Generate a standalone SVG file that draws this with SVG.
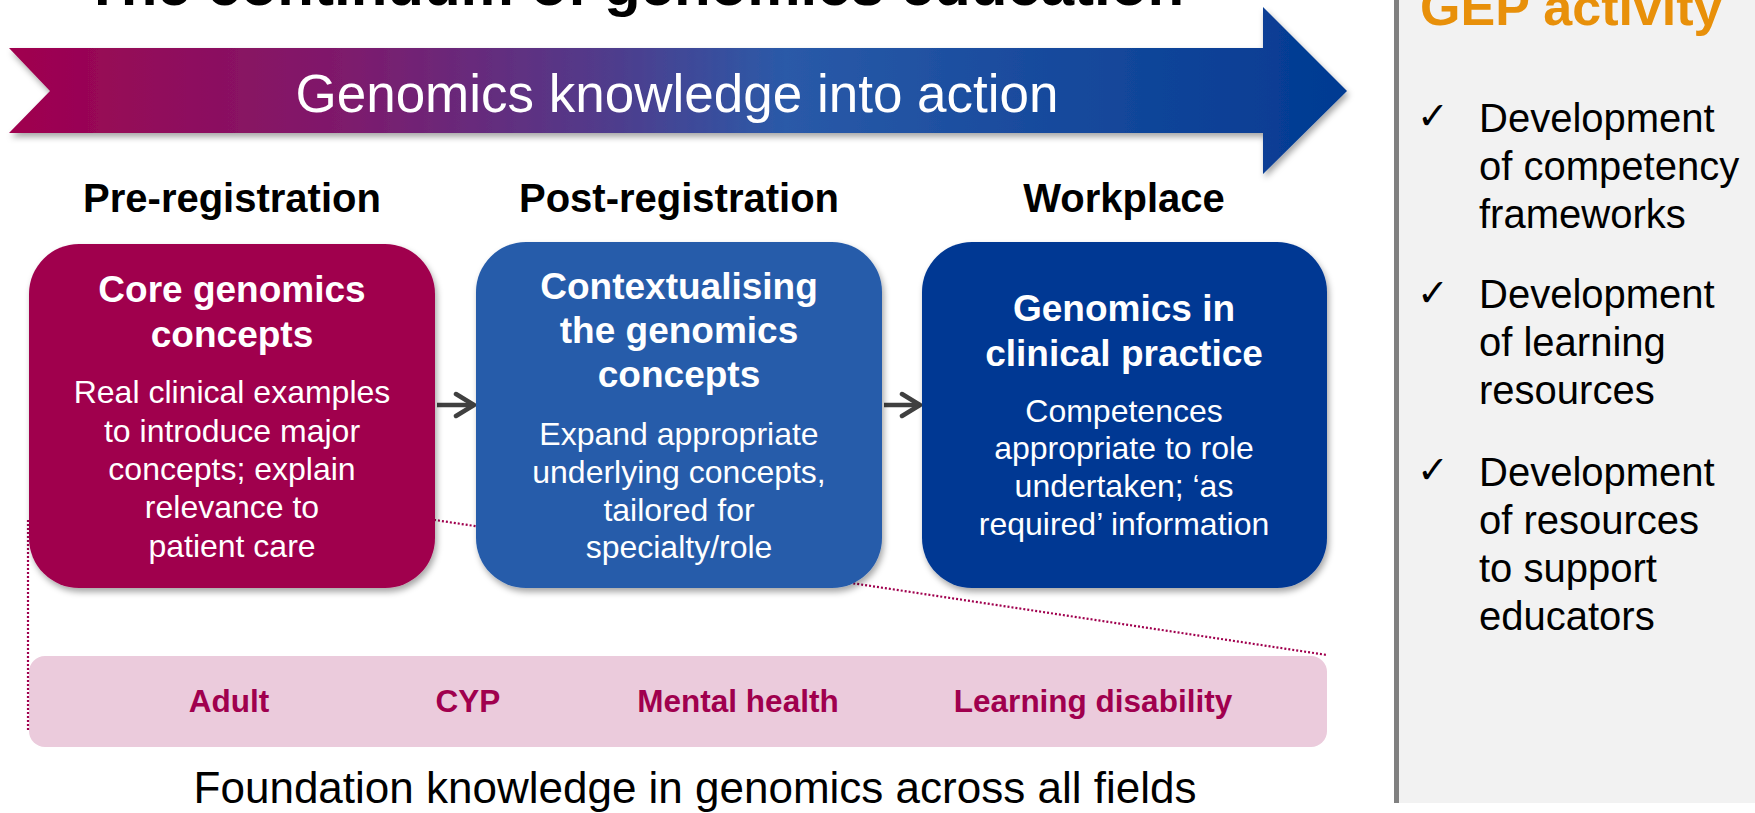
<svg xmlns="http://www.w3.org/2000/svg" width="1755" height="813" viewBox="0 0 1755 813">
<defs>
<linearGradient id="bannerGrad" x1="0" y1="0" x2="1" y2="0">
<stop offset="0" stop-color="#a0004e"/>
<stop offset="0.25" stop-color="#7e1a6c"/>
<stop offset="0.45" stop-color="#4f3c8c"/>
<stop offset="0.58" stop-color="#2a5aa8"/>
<stop offset="0.75" stop-color="#1a4c9e"/>
<stop offset="1" stop-color="#023a92"/>
</linearGradient>
<filter id="shadow" x="-5%" y="-5%" width="115%" height="120%">
<feDropShadow dx="2" dy="4" stdDeviation="3" flood-color="#000" flood-opacity="0.35"/>
</filter>
<marker id="chev" viewBox="0 0 24 28" refX="21" refY="14" markerWidth="24" markerHeight="28" markerUnits="userSpaceOnUse" orient="auto">
<path d="M3,3 L21,14 L3,25" fill="none" stroke="#404040" stroke-width="4.5" stroke-linecap="round" stroke-linejoin="round"/>
</marker>
</defs>
<style>
text{font-family:"Liberation Sans",Arial,sans-serif}
.hd{font-size:40px;font-weight:bold;fill:#000;text-anchor:middle}
.bt{font-size:37px;font-weight:bold;fill:#fff;text-anchor:middle}
.bb{font-size:32px;fill:#fff;text-anchor:middle}
.pk{font-size:31.5px;font-weight:bold;fill:#a0004e;text-anchor:middle}
.gp{font-size:40px;fill:#000}
.ck{font-size:38px;fill:#000;font-family:"DejaVu Sans",sans-serif}
.dot{fill:none;stroke:#a0004e;stroke-width:2.2;stroke-dasharray:2 2}
.arr{stroke:#404040;stroke-width:4.5;fill:none}
</style>
<rect width="1755" height="813" fill="#fff"/>

<g id="title">
<text x="84" y="5" font-size="60" font-weight="bold" fill="#000">The continuum of genomics education</text>
</g>

<g id="banner">
<polygon points="9,48 1263,48 1263,7 1347,91 1263,174 1263,133 9,133 50,91" fill="url(#bannerGrad)" filter="url(#shadow)"/>
<text x="677" y="112" font-size="53" fill="#fff" text-anchor="middle">Genomics knowledge into action</text>
</g>

<g id="gep-panel">
<rect x="1399" y="0" width="356" height="803" fill="#f2f2f2"/>
<rect x="1394" y="0" width="5" height="803" fill="#808080"/>
<text x="1420" y="25" font-size="52" font-weight="bold" fill="#e8900a">GEP activity</text>
<text class="ck" x="1417" y="129">✓</text>
<text class="gp" x="1479" y="132">Development</text>
<text class="gp" x="1479" y="180">of competency</text>
<text class="gp" x="1479" y="228">frameworks</text>
<text class="ck" x="1417" y="306">✓</text>
<text class="gp" x="1479" y="308">Development</text>
<text class="gp" x="1479" y="356">of learning</text>
<text class="gp" x="1479" y="404">resources</text>
<text class="ck" x="1417" y="483">✓</text>
<text class="gp" x="1479" y="486">Development</text>
<text class="gp" x="1479" y="534">of resources</text>
<text class="gp" x="1479" y="582">to support</text>
<text class="gp" x="1479" y="630">educators</text>
</g>

<g id="headings">
<text class="hd" x="232" y="212">Pre-registration</text>
<text class="hd" x="679" y="212">Post-registration</text>
<text class="hd" x="1124" y="212">Workplace</text>
</g>

<g id="fields-bar">
<rect x="29" y="656" width="1298" height="91" rx="16" fill="#ebcbdc"/>
<text class="pk" x="229" y="712">Adult</text>
<text class="pk" x="468" y="712">CYP</text>
<text class="pk" x="738" y="712">Mental health</text>
<text class="pk" x="1093" y="712">Learning disability</text>
</g>

<g id="connectors">
<polyline class="dot" points="28,730 28,520 435,520 1327,655"/>
<line class="arr" x1="437" y1="405" x2="474" y2="405" marker-end="url(#chev)"/>
<line class="arr" x1="884" y1="405" x2="920" y2="405" marker-end="url(#chev)"/>
</g>

<g id="box-core">
<rect x="29" y="244" width="406" height="344" rx="50" fill="#a0004e" filter="url(#shadow)"/>
<text class="bt" x="232" y="302">Core genomics</text>
<text class="bt" x="232" y="347">concepts</text>
<text class="bb" x="232" y="403">Real clinical examples</text>
<text class="bb" x="232" y="442">to introduce major</text>
<text class="bb" x="232" y="480">concepts; explain</text>
<text class="bb" x="232" y="518">relevance to</text>
<text class="bb" x="232" y="557">patient care</text>
</g>

<g id="box-context">
<rect x="476" y="242" width="406" height="346" rx="50" fill="#265caa" filter="url(#shadow)"/>
<text class="bt" x="679" y="299">Contextualising</text>
<text class="bt" x="679" y="343">the genomics</text>
<text class="bt" x="679" y="387">concepts</text>
<text class="bb" x="679" y="445">Expand appropriate</text>
<text class="bb" x="679" y="483">underlying concepts,</text>
<text class="bb" x="679" y="521">tailored for</text>
<text class="bb" x="679" y="558">specialty/role</text>
</g>

<g id="box-clinical">
<rect x="922" y="242" width="405" height="346" rx="50" fill="#003893" filter="url(#shadow)"/>
<text class="bt" x="1124" y="321">Genomics in</text>
<text class="bt" x="1124" y="366">clinical practice</text>
<text class="bb" x="1124" y="422">Competences</text>
<text class="bb" x="1124" y="459">appropriate to role</text>
<text class="bb" x="1124" y="497">undertaken; ‘as</text>
<text class="bb" x="1124" y="535">required’ information</text>
</g>

<g id="footer">
<text x="695" y="803" font-size="44" fill="#000" text-anchor="middle">Foundation knowledge in genomics across all fields</text>
</g>
</svg>
